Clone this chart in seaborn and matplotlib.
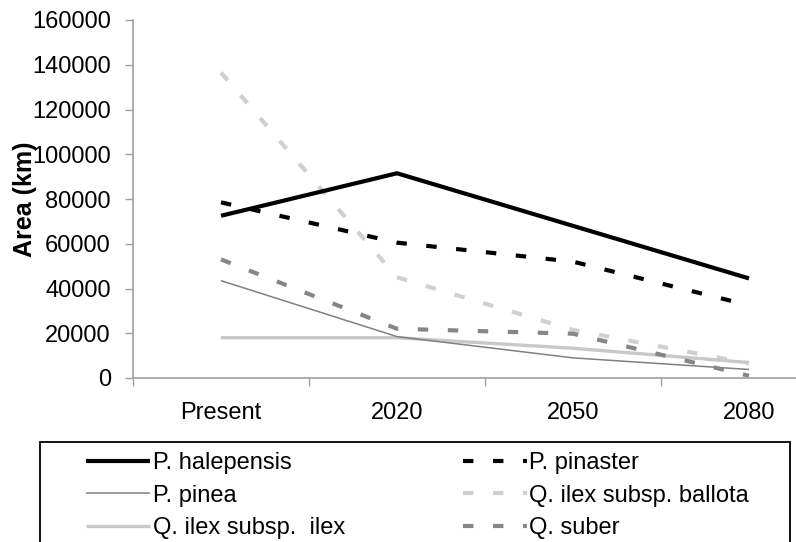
import matplotlib
matplotlib.use("Agg")
import matplotlib.pyplot as plt
from matplotlib.patches import Rectangle
import seaborn as sns

# Projected range area per species and period
periods = ["Present", "2020", "2050", "2080"]
p_halepensis = [72500, 91500, 68000, 44500]
p_pinaster = [78500, 60500, 52000, 32500]
p_pinea = [43500, 18500, 9000, 3800]
q_ballota = [136500, 45000, 21500, 6500]
q_ilex = [18000, 18000, 13300, 6900]
q_suber = [53000, 22000, 19800, 1000]

y_ticks = [0, 20000, 40000, 60000, 80000, 100000, 120000, 140000, 160000]

sns.set_theme(style="white")
plt.rcParams["font.family"] = ["Liberation Sans", "DejaVu Sans"]
plt.rcParams["text.color"] = "black"

W, H = 796, 542
fig = plt.figure(figsize=(W / 100, H / 100), dpi=100)
# plot area: x from 133 px, y from 20 px (top) to 378 px (bottom)
ax = fig.add_axes([133 / W, (H - 378) / H, 704 / W, 358 / H])

dash = (0, (2.5, 4.7))
series = [
    ("P. halepensis", p_halepensis, "#000000", 3.0, "-"),
    ("P. pinea", p_pinea, "#808080", 1.1, "-"),
    ("Q. ilex subsp.  ilex", q_ilex, "#c8c8c8", 2.4, "-"),
    ("P. pinaster", p_pinaster, "#000000", 3.0, dash),
    ("Q. ilex subsp. ballota", q_ballota, "#d0d0d0", 3.0, dash),
    ("Q. suber", q_suber, "#868686", 3.0, dash),
]

# draw back-to-front so the black lines sit on top
draw_order = [4, 2, 1, 5, 3, 0]
for i in draw_order:
    name, vals, col, lw, ls = series[i]
    sns.lineplot(x=periods, y=vals, ax=ax, color=col, linewidth=lw,
                 linestyle=ls, sort=False, label=name, legend=False,
                 solid_capstyle="butt", dash_capstyle="butt")

ax.set_xlim(-0.5, 3.5)
ax.set_ylim(0, 160000)
ax.set_yticks(y_ticks)
ax.set_yticklabels([str(v) for v in y_ticks])

# category boundaries carry the tick marks, labels sit at the centres
ax.set_xticks([-0.5, 0.5, 1.5, 2.5, 3.5])
ax.set_xticklabels([])
ax.set_xticks(range(len(periods)), minor=True)
ax.set_xticklabels(periods, minor=True)
ax.tick_params(axis="x", which="minor", length=0, pad=17, labelsize=17,
               labelcolor="black")
ax.tick_params(axis="x", which="major", length=6, width=1, color="#a0a0a0",
               direction="out", bottom=True)
ax.tick_params(axis="y", which="major", length=6, width=1, color="#a0a0a0",
               direction="out", left=True, pad=10, labelsize=17,
               labelcolor="black")

for side in ["top", "right"]:
    ax.spines[side].set_visible(False)
for side in ["left", "bottom"]:
    ax.spines[side].set_color("#a0a0a0")
    ax.spines[side].set_linewidth(1.2)

ax.set_xlabel("")
ax.set_ylabel("Area (km)", fontsize=18, fontweight="bold", color="black")
ax.yaxis.set_label_coords(-0.137, 0.5)
ax.grid(False)

# legend box, open at the bottom edge of the figure
fig.patches.append(Rectangle((40 / W, -0.1), (790 - 40) / W, 1.1 - 442 / H,
                             transform=fig.transFigure, fill=False,
                             edgecolor="black", linewidth=1.3, zorder=5))

lines = {ln.get_label(): ln for ln in ax.get_lines()}
handles = [lines[s[0]] for s in series]
labels = [s[0] for s in series]
leg = fig.legend(handles, labels, loc="upper left",
                 bbox_to_anchor=(86 / W, 1 - 452 / H),
                 bbox_transform=fig.transFigure,
                 ncol=2, frameon=False, fontsize=17, borderpad=0,
                 borderaxespad=0, handlelength=2.7, handletextpad=0.12,
                 columnspacing=5.0, labelspacing=0.45)
for t in leg.get_texts():
    t.set_color("black")

fig.savefig("out.png", dpi=100)
